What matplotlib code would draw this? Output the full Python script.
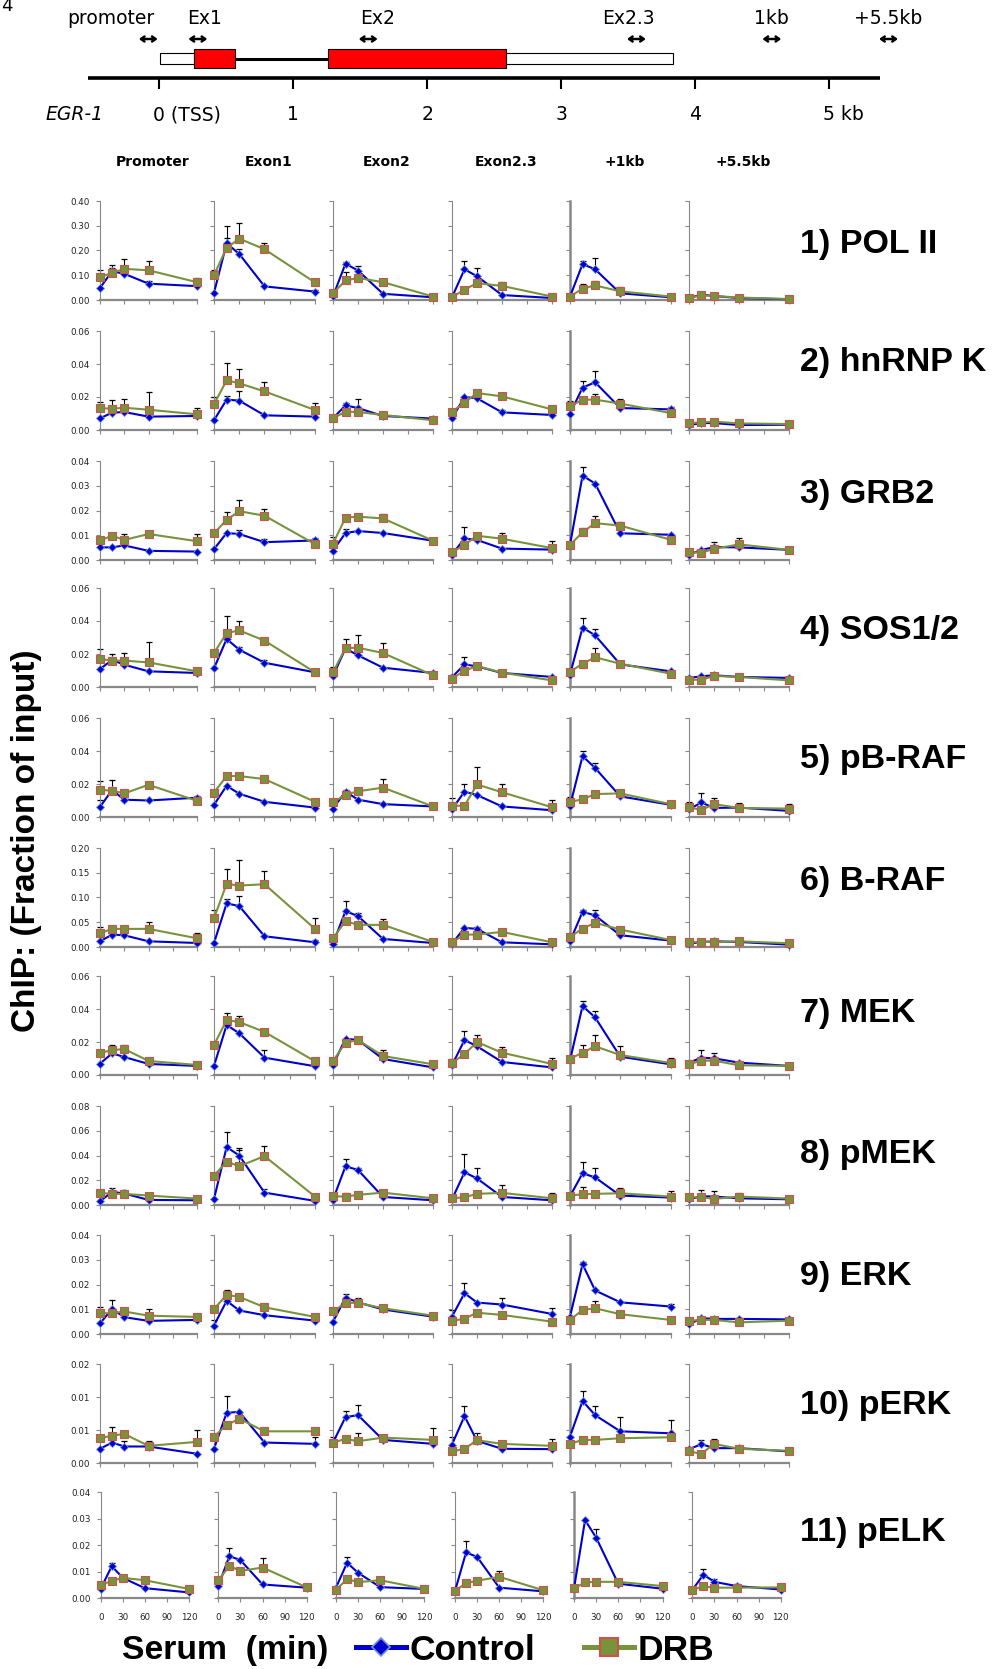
import numpy as np
import matplotlib
matplotlib.use("Agg")
import matplotlib.pyplot as plt
from matplotlib.lines import Line2D
from matplotlib.patches import Rectangle
from matplotlib.ticker import FuncFormatter

# ---- data -------------------------------------------------------------
times = [0, 15, 30, 60, 120]
regions = ["Promoter", "Exon1", "Exon2", "Exon2.3", "+1kb", "+5.5kb"]
targets = ["1) POL II", "2) hnRNP K", "3) GRB2", "4) SOS1/2", "5) pB-RAF",
           "6) B-RAF", "7) MEK", "8) pMEK", "9) ERK", "10) pERK", "11) pELK"]
y_max = [0.40, 0.06, 0.04, 0.06, 0.06, 0.20, 0.06, 0.08, 0.04, 0.015, 0.04]
y_step = [0.10, 0.02, 0.01, 0.02, 0.02, 0.05, 0.02, 0.02, 0.01, 0.005, 0.01]

# each list: one row of 5 time points per region (Promoter ... +5.5kb)
pol2_ctrl = [[0.049, 0.116, 0.106, 0.066, 0.056], [0.029, 0.229, 0.186, 0.055, 0.034],
             [0.015, 0.147, 0.119, 0.025, 0.011], [0.011, 0.124, 0.096, 0.020, 0.008],
             [0.014, 0.145, 0.124, 0.027, 0.011], [0.008, 0.022, 0.016, 0.008, 0.003]]
pol2_ctrl_err = [[0, 0.015, 0.010, 0.010, 0.005], [0, 0.020, 0.020, 0, 0.005],
                 [0, 0.005, 0.020, 0, 0], [0, 0.032, 0.034, 0, 0],
                 [0, 0.013, 0.044, 0, 0], [0, 0, 0, 0, 0]]
pol2_drb = [[0.093, 0.109, 0.126, 0.120, 0.072], [0.101, 0.210, 0.248, 0.205, 0.071],
            [0.027, 0.079, 0.089, 0.072, 0.014], [0.011, 0.042, 0.068, 0.057, 0.014],
            [0.014, 0.046, 0.059, 0.035, 0.014], [0.008, 0.019, 0.016, 0.010, 0.004]]
pol2_drb_err = [[0.030, 0.033, 0.038, 0.038, 0.017], [0.022, 0.090, 0.062, 0.024, 0.015],
                [0, 0.036, 0, 0.010, 0], [0, 0, 0, 0.015, 0],
                [0, 0.020, 0.017, 0.017, 0], [0, 0, 0, 0, 0]]

hnrnpk_ctrl = [[0.0071, 0.0105, 0.0109, 0.0081, 0.0085], [0.0059, 0.0184, 0.0178, 0.0089, 0.0081],
               [0.0071, 0.0149, 0.0133, 0.0085, 0.0069], [0.0071, 0.0200, 0.0192, 0.0107, 0.0091],
               [0.0099, 0.0257, 0.0289, 0.0133, 0.0125], [0.0030, 0.0042, 0.0042, 0.0030, 0.0032]]
hnrnpk_ctrl_err = [[0, 0, 0, 0, 0], [0, 0.0024, 0.0058, 0, 0],
                   [0, 0.0015, 0.0055, 0, 0], [0, 0, 0, 0.0013, 0],
                   [0, 0.0040, 0.0067, 0, 0.0016], [0, 0, 0, 0, 0]]
hnrnpk_drb = [[0.0133, 0.0129, 0.0135, 0.0123, 0.0095], [0.0156, 0.0301, 0.0283, 0.0234, 0.0121],
              [0.0071, 0.0111, 0.0109, 0.0091, 0.0059], [0.0111, 0.0166, 0.0224, 0.0204, 0.0125],
              [0.0143, 0.0184, 0.0184, 0.0160, 0.0103], [0.0042, 0.0046, 0.0051, 0.0040, 0.0036]]
hnrnpk_drb_err = [[0.0037, 0.0055, 0.0053, 0.0110, 0.0040], [0.0044, 0.0105, 0.0087, 0.0057, 0.0043],
                  [0, 0, 0, 0, 0], [0, 0, 0.0012, 0.0016, 0],
                  [0.0031, 0, 0.0036, 0.0030, 0], [0, 0, 0, 0, 0]]

grb2_ctrl = [[0.0051, 0.0051, 0.0059, 0.0037, 0.0034], [0.0044, 0.0109, 0.0105, 0.0072, 0.0079],
             [0.0038, 0.0109, 0.0117, 0.0109, 0.0078], [0.0022, 0.0087, 0.0081, 0.0046, 0.0042],
             [0.0061, 0.0341, 0.0309, 0.0108, 0.0102], [0.0022, 0.0041, 0.0052, 0.0051, 0.0041]]
grb2_ctrl_err = [[0, 0, 0, 0, 0], [0, 0, 0.0015, 0.0014, 0.0010],
                 [0, 0.0015, 0, 0, 0], [0, 0.0047, 0, 0, 0],
                 [0, 0.0034, 0, 0, 0], [0, 0, 0, 0, 0]]
grb2_drb = [[0.0079, 0.0098, 0.0081, 0.0105, 0.0076], [0.0108, 0.0162, 0.0197, 0.0179, 0.0064],
            [0.0066, 0.0171, 0.0175, 0.0168, 0.0078], [0.0031, 0.0061, 0.0098, 0.0086, 0.0048],
            [0.0061, 0.0112, 0.0149, 0.0139, 0.0082], [0.0031, 0.0030, 0.0045, 0.0063, 0.0041]]
grb2_drb_err = [[0.0012, 0, 0.0023, 0, 0.0029], [0, 0.0030, 0.0046, 0.0026, 0],
                [0.0027, 0, 0, 0.0016, 0], [0, 0, 0.0012, 0.0023, 0.0028],
                [0, 0.0019, 0.0028, 0.0015, 0], [0, 0, 0.0026, 0.0024, 0]]

sos_ctrl = [[0.0109, 0.0164, 0.0135, 0.0095, 0.0085], [0.0113, 0.0291, 0.0226, 0.0147, 0.0089],
            [0.0067, 0.0234, 0.0192, 0.0117, 0.0085], [0.0059, 0.0137, 0.0125, 0.0085, 0.0061],
            [0.0075, 0.0360, 0.0313, 0.0137, 0.0095], [0.0055, 0.0065, 0.0071, 0.0061, 0.0055]]
sos_ctrl_err = [[0, 0, 0, 0, 0], [0, 0, 0.0014, 0.0014, 0],
                [0, 0, 0, 0, 0], [0, 0.0045, 0, 0, 0],
                [0, 0.0056, 0.0037, 0, 0], [0, 0, 0, 0, 0]]
sos_drb = [[0.0170, 0.0160, 0.0160, 0.0149, 0.0095], [0.0206, 0.0327, 0.0343, 0.0281, 0.0089],
           [0.0089, 0.0236, 0.0238, 0.0206, 0.0071], [0.0051, 0.0099, 0.0127, 0.0087, 0.0040],
           [0.0093, 0.0141, 0.0180, 0.0141, 0.0081], [0.0044, 0.0044, 0.0067, 0.0061, 0.0040]]
sos_drb_err = [[0.0062, 0.0038, 0.0044, 0.0124, 0], [0, 0.0101, 0.0059, 0, 0],
               [0.0032, 0.0053, 0.0075, 0.0063, 0], [0, 0, 0, 0, 0],
               [0, 0.0014, 0.0056, 0, 0], [0, 0, 0, 0, 0]]

pbraf_ctrl = [[0.0061, 0.0164, 0.0105, 0.0100, 0.0117], [0.0074, 0.0189, 0.0141, 0.0092, 0.0057],
              [0.0051, 0.0154, 0.0105, 0.0078, 0.0064], [0.0047, 0.0154, 0.0133, 0.0064, 0.0041],
              [0.0068, 0.0369, 0.0297, 0.0125, 0.0074], [0.0047, 0.0088, 0.0055, 0.0057, 0.0037]]
pbraf_ctrl_err = [[0.0041, 0, 0, 0, 0.0012], [0, 0, 0, 0, 0],
                  [0, 0.0010, 0, 0, 0], [0.0066, 0.0048, 0, 0, 0],
                  [0.0055, 0.0031, 0.0033, 0, 0], [0, 0.0055, 0, 0, 0]]
pbraf_drb = [[0.0164, 0.0160, 0.0143, 0.0195, 0.0098], [0.0148, 0.0248, 0.0248, 0.0230, 0.0092],
             [0.0088, 0.0135, 0.0156, 0.0178, 0.0064], [0.0068, 0.0068, 0.0197, 0.0150, 0.0059],
             [0.0092, 0.0107, 0.0139, 0.0143, 0.0078], [0.0059, 0.0043, 0.0078, 0.0055, 0.0051]]
pbraf_drb_err = [[0.0057, 0.0065, 0, 0, 0], [0, 0, 0, 0, 0],
                 [0, 0, 0, 0.0054, 0], [0, 0, 0.0106, 0.0050, 0.0041],
                 [0, 0, 0, 0, 0], [0.0033, 0, 0.0035, 0.0029, 0.0027]]

braf_ctrl = [[0.0115, 0.0250, 0.0237, 0.0115, 0.0081], [0.0081, 0.0881, 0.0827, 0.0217, 0.0095],
             [0.0068, 0.0725, 0.0624, 0.0163, 0.0081], [0.0068, 0.0386, 0.0366, 0.0095, 0.0054],
             [0.0115, 0.0712, 0.0637, 0.0237, 0.0129], [0.0068, 0.0102, 0.0115, 0.0102, 0.0047]]
braf_ctrl_err = [[0, 0, 0, 0, 0], [0, 0.0089, 0.0203, 0, 0.0040],
                 [0, 0.0204, 0.0054, 0, 0], [0, 0, 0.0041, 0, 0],
                 [0, 0.0041, 0.0116, 0, 0], [0, 0, 0, 0, 0]]
braf_drb = [[0.0278, 0.0366, 0.0366, 0.0366, 0.0176], [0.0583, 0.1275, 0.1241, 0.1268, 0.0366],
            [0.0176, 0.0522, 0.0447, 0.0447, 0.0102], [0.0095, 0.0251, 0.0251, 0.0305, 0.0095],
            [0.0203, 0.0373, 0.0488, 0.0353, 0.0142], [0.0095, 0.0108, 0.0095, 0.0115, 0.0075]]
braf_drb_err = [[0.0129, 0.0068, 0.0041, 0.0136, 0.0109], [0.0156, 0.0291, 0.0508, 0.0264, 0.0210],
                [0, 0, 0, 0.0109, 0], [0, 0, 0, 0, 0],
                [0.0061, 0, 0, 0, 0], [0, 0, 0, 0, 0]]

mek_ctrl = [[0.0069, 0.0131, 0.0109, 0.0067, 0.0055], [0.0055, 0.0303, 0.0253, 0.0105, 0.0053],
            [0.0061, 0.0220, 0.0212, 0.0097, 0.0046], [0.0059, 0.0212, 0.0174, 0.0079, 0.0046],
            [0.0089, 0.0418, 0.0349, 0.0111, 0.0065], [0.0075, 0.0105, 0.0101, 0.0075, 0.0055]]
mek_ctrl_err = [[0, 0, 0, 0, 0], [0, 0, 0, 0.0049, 0],
                [0, 0, 0, 0, 0], [0, 0.0057, 0, 0, 0],
                [0, 0.0033, 0.0041, 0, 0], [0, 0.0045, 0.0030, 0, 0]]
mek_drb = [[0.0135, 0.0150, 0.0158, 0.0085, 0.0061], [0.0182, 0.0333, 0.0321, 0.0261, 0.0083],
           [0.0085, 0.0196, 0.0212, 0.0115, 0.0065], [0.0073, 0.0127, 0.0200, 0.0135, 0.0067],
           [0.0099, 0.0135, 0.0174, 0.0121, 0.0073], [0.0065, 0.0087, 0.0087, 0.0059, 0.0055]]
mek_drb_err = [[0, 0.0034, 0.0026, 0, 0], [0, 0.0045, 0.0037, 0, 0],
               [0, 0, 0, 0.0039, 0], [0.0026, 0, 0.0044, 0.0033, 0.0034],
               [0, 0.0045, 0.0066, 0.0053, 0.0032], [0, 0, 0, 0, 0]]

pmek_ctrl = [[0.0030, 0.0106, 0.0093, 0.0041, 0.0038], [0.0049, 0.0468, 0.0400, 0.0100, 0.0033],
             [0.0044, 0.0313, 0.0283, 0.0065, 0.0038], [0.0046, 0.0264, 0.0215, 0.0065, 0.0038],
             [0.0071, 0.0256, 0.0223, 0.0076, 0.0060], [0.0046, 0.0071, 0.0068, 0.0054, 0.0046]]
pmek_ctrl_err = [[0, 0.0030, 0, 0, 0], [0, 0.0123, 0.0063, 0.0028, 0],
                 [0, 0.0060, 0.0019, 0, 0], [0, 0.0147, 0.0087, 0, 0],
                 [0, 0.0090, 0.0079, 0, 0], [0, 0, 0.0044, 0, 0]]
pmek_drb = [[0.0098, 0.0090, 0.0090, 0.0076, 0.0052], [0.0237, 0.0351, 0.0313, 0.0395, 0.0068],
            [0.0071, 0.0068, 0.0082, 0.0100, 0.0054], [0.0054, 0.0063, 0.0090, 0.0098, 0.0054],
            [0.0076, 0.0087, 0.0090, 0.0095, 0.0068], [0.0063, 0.0063, 0.0049, 0.0068, 0.0052]]
pmek_drb_err = [[0, 0, 0.0030, 0.0024, 0], [0, 0, 0.0133, 0.0078, 0],
                [0, 0.0032, 0, 0, 0], [0, 0, 0, 0.0062, 0.0041],
                [0, 0.0060, 0, 0.0041, 0.0044], [0, 0.0057, 0, 0.0032, 0]]

erk_ctrl = [[0.0043, 0.0101, 0.0068, 0.0053, 0.0057], [0.0034, 0.0134, 0.0095, 0.0076, 0.0054],
            [0.0049, 0.0147, 0.0128, 0.0099, 0.0070], [0.0070, 0.0165, 0.0127, 0.0119, 0.0081],
            [0.0070, 0.0282, 0.0176, 0.0128, 0.0111], [0.0039, 0.0064, 0.0061, 0.0061, 0.0059]]
erk_ctrl_err = [[0, 0.0037, 0, 0, 0], [0.0023, 0, 0, 0, 0],
                [0, 0.0015, 0.0017, 0, 0], [0.0026, 0.0043, 0, 0.0026, 0.0023],
                [0, 0.0007, 0, 0, 0.0009], [0, 0, 0, 0, 0]]
erk_drb = [[0.0084, 0.0084, 0.0091, 0.0074, 0.0069], [0.0101, 0.0158, 0.0150, 0.0108, 0.0069],
           [0.0091, 0.0126, 0.0126, 0.0104, 0.0074], [0.0053, 0.0062, 0.0086, 0.0077, 0.0050],
           [0.0057, 0.0097, 0.0104, 0.0080, 0.0057], [0.0053, 0.0057, 0.0057, 0.0047, 0.0054]]
erk_drb_err = [[0.0027, 0, 0, 0.0027, 0], [0, 0.0020, 0, 0, 0],
               [0, 0, 0, 0, 0], [0, 0, 0, 0, 0],
               [0, 0, 0.0030, 0.0010, 0], [0, 0, 0, 0, 0]]

perk_ctrl = [[0.00215, 0.0031, 0.0025, 0.0025, 0.0014], [0.00215, 0.0076, 0.00775, 0.0031, 0.0029],
             [0.0031, 0.00695, 0.00725, 0.0035, 0.0029], [0.0028, 0.0071, 0.00335, 0.00215, 0.0021],
             [0.0040, 0.0094, 0.00725, 0.0048, 0.0045], [0.0021, 0.00285, 0.00225, 0.00225, 0.00175]]
perk_ctrl_err = [[0, 0, 0.0008, 0, 0], [0, 0.0025, 0, 0, 0.0010],
                 [0.0009, 0.0010, 0.0016, 0, 0], [0.0012, 0.0015, 0, 0, 0],
                 [0, 0.0015, 0.0014, 0.0021, 0.0020], [0, 0.0007, 0, 0, 0]]
perk_drb = [[0.00375, 0.00415, 0.0044, 0.0026, 0.0032], [0.0040, 0.00575, 0.0067, 0.0048, 0.0048],
            [0.0031, 0.00365, 0.0033, 0.00385, 0.0035], [0.00175, 0.00215, 0.00345, 0.0029, 0.0026],
            [0.0029, 0.0035, 0.0035, 0.00375, 0.0039], [0.00175, 0.0014, 0.0029, 0.00215, 0.00185]]
perk_drb_err = [[0, 0.0013, 0, 0.0008, 0.0018], [0, 0, 0, 0, 0],
                [0, 0, 0.0012, 0, 0.0018], [0, 0, 0.0011, 0, 0.0010],
                [0, 0, 0, 0, 0], [0, 0, 0.0008, 0, 0]]

pelk_ctrl = [[0.0035, 0.0120, 0.0076, 0.0037, 0.0021], [0.0045, 0.0158, 0.0143, 0.0051, 0.0039],
             [0.0039, 0.0133, 0.0095, 0.0041, 0.0034], [0.0026, 0.0172, 0.0155, 0.0039, 0.0025],
             [0.0036, 0.0294, 0.0228, 0.0054, 0.0035], [0.0030, 0.0088, 0.0061, 0.0045, 0.0032]]
pelk_ctrl_err = [[0, 0.0012, 0, 0, 0], [0, 0.0030, 0, 0, 0],
                 [0, 0.0020, 0, 0, 0], [0, 0.0042, 0, 0, 0],
                 [0, 0, 0.0032, 0, 0], [0, 0.0023, 0.0011, 0, 0]]
pelk_drb = [[0.0050, 0.0064, 0.0076, 0.0067, 0.0034], [0.0067, 0.0121, 0.0102, 0.0115, 0.0040],
            [0.0031, 0.0071, 0.0060, 0.0067, 0.0034], [0.0027, 0.0056, 0.0065, 0.0080, 0.0029],
            [0.0036, 0.0059, 0.0061, 0.0061, 0.0045], [0.0031, 0.0044, 0.0039, 0.0039, 0.0040]]
pelk_drb_err = [[0, 0, 0, 0, 0], [0, 0, 0, 0.0035, 0],
                [0, 0, 0, 0, 0], [0, 0, 0, 0.0021, 0],
                [0, 0, 0, 0, 0], [0, 0, 0, 0.0015, 0]]

ctrl_sets = [pol2_ctrl, hnrnpk_ctrl, grb2_ctrl, sos_ctrl, pbraf_ctrl, braf_ctrl,
             mek_ctrl, pmek_ctrl, erk_ctrl, perk_ctrl, pelk_ctrl]
ctrl_errs = [pol2_ctrl_err, hnrnpk_ctrl_err, grb2_ctrl_err, sos_ctrl_err, pbraf_ctrl_err,
             braf_ctrl_err, mek_ctrl_err, pmek_ctrl_err, erk_ctrl_err, perk_ctrl_err, pelk_ctrl_err]
drb_sets = [pol2_drb, hnrnpk_drb, grb2_drb, sos_drb, pbraf_drb, braf_drb,
            mek_drb, pmek_drb, erk_drb, perk_drb, pelk_drb]
drb_errs = [pol2_drb_err, hnrnpk_drb_err, grb2_drb_err, sos_drb_err, pbraf_drb_err,
            braf_drb_err, mek_drb_err, pmek_drb_err, erk_drb_err, perk_drb_err, pelk_drb_err]

# EGR-1 gene map, positions in kb from the TSS
kb_ticks = [0, 1, 2, 3, 4, 5]
kb_tick_labels = ["0 (TSS)", "1", "2", "3", "4", "5 kb"]
utr_blocks = [(0.01, 0.26), (2.59, 3.83)]
exon_blocks = [(0.26, 0.57), (1.26, 2.59)]
intron_span = (0.57, 1.26)
amplicons = ["promoter", "Ex1", "Ex2", "Ex2.3", "1kb", "+5.5kb"]
amplicon_kb = [-0.08, 0.29, 1.56, 3.56, 4.57, 5.44]
amplicon_label_kb = [-0.36, 0.34, 1.63, 3.50, 4.57, 5.44]

# ---- styling / layout (pixels on a 995 x 1669 canvas) -------------------
W, H = 995, 1669
CTRL = "#0000CC"
CTRL_EDGE = "#6F93E0"
DRB = "#77933C"
DRB_EDGE = "#D0504D"
AXIS_GRAY = "#888888"
BOLD = ["Liberation Sans", "DejaVu Sans"]

col_left = [100, 214, 333, 452, 570, 689]
col_width = [97, 101, 100, 100, 100.5, 100]
last_left = [100.7, 218.3, 336, 455, 574, 692.3]
last_width = 88.5
row_top = [201, 331, 461, 588, 718, 848, 976, 1106, 1235, 1364, 1492]
row_h, last_h = 99, 106
label_y = [245, 362, 494, 630, 759, 881, 1013, 1155, 1276, 1405, 1532]


def px_box(left, top, width, height):
    return [left / W, 1 - (top + height) / H, width / W, height / H]


def two_dec(v, pos):
    return f"{np.floor(v * 100 + 0.5 + 1e-9) / 100:.2f}"


def draw_err(ax, y, e, z):
    y = np.asarray(y, float)
    e = np.asarray(e, float)
    m = e > 0
    if not m.any():
        return
    t = np.asarray(times)[m]
    ax.errorbar(t, y[m], yerr=[np.zeros(m.sum()), e[m]], fmt="none", ecolor="black",
                elinewidth=0.8, capsize=2.3, capthick=0.9, zorder=z, clip_on=False)


fig = plt.figure(figsize=(W / 100, H / 100), dpi=100)

n_rows = len(targets)
for r in range(n_rows):
    last = r == n_rows - 1
    for c in range(len(regions)):
        if last:
            box = px_box(last_left[c], row_top[r], last_width, last_h)
        else:
            box = px_box(col_left[c], row_top[r], col_width[c], row_h)
        ax = fig.add_axes(box)
        ax.patch.set_alpha(0)

        draw_err(ax, ctrl_sets[r][c], ctrl_errs[r][c], 2)
        ax.plot(times, ctrl_sets[r][c], color=CTRL, lw=1.5, marker="D", ms=3.6,
                mfc=CTRL, mec=CTRL_EDGE, mew=0.6, zorder=3, clip_on=False)
        draw_err(ax, drb_sets[r][c], drb_errs[r][c], 2.5)
        ax.plot(times, drb_sets[r][c], color=DRB, lw=1.5, marker="s", ms=5.6,
                mfc=DRB, mec=DRB_EDGE, mew=0.8, zorder=4, clip_on=False)

        ax.set_xlim(0, 120)
        ax.set_ylim(0, y_max[r])
        ax.set_xticks([0, 30, 60, 90, 120])
        ax.set_yticks(np.arange(0, y_max[r] + y_step[r] / 2, y_step[r]))
        ax.yaxis.set_major_formatter(FuncFormatter(two_dec))
        for s in ("top", "right"):
            ax.spines[s].set_visible(False)
        ax.spines["left"].set_color(AXIS_GRAY)
        ax.spines["left"].set_linewidth(1.8 if c == 4 else 0.8)
        ax.spines["bottom"].set_color(AXIS_GRAY)
        ax.spines["bottom"].set_linewidth(1.6)
        ax.tick_params(axis="both", direction="out", color=AXIS_GRAY, length=2.6,
                       width=0.8, labelsize=6.3, labelcolor="#222222")
        ax.tick_params(axis="y", pad=4.5, labelleft=(c == 0))
        ax.tick_params(axis="x", pad=8, labelbottom=last)
        for t in ax.get_xticklabels() + ax.get_yticklabels():
            t.set_family("DejaVu Sans")

    fig.text(800 / W, 1 - label_y[r] / H, targets[r], ha="left", va="center",
             fontsize=24.5, fontweight="bold", family=BOLD)

# column headers
for c, name in enumerate(regions):
    cx = col_left[c] + col_width[c] / 2 + 4
    fig.text(cx / W, 1 - 162 / H, name, ha="center", va="center",
             fontsize=10, fontweight="bold", family="DejaVu Sans")

# gene map across the top
gx0, gkb = 159.0, 134.1
gax = fig.add_axes(px_box(0, 0, W, 190))
gax.set_xlim(-gx0 / gkb, (W - gx0) / gkb)
gax.set_ylim(190, 0)
gax.axis("off")

gax.plot([-0.53, 5.38], [77.7, 77.7], color="black", lw=2.6, solid_capstyle="butt")
gax.vlines(kb_ticks, 77.7, 89, color="black", lw=1.5)
for k, lab in zip(kb_ticks, kb_tick_labels):
    if lab in ("0 (TSS)", "5 kb"):
        gax.text(k - 0.045, 115, lab, ha="left", va="center", fontsize=13.5,
                 family="DejaVu Sans")
    else:
        gax.text(k, 115, lab, ha="center", va="center", fontsize=13.5,
                 family="DejaVu Sans")
gax.text(-0.63, 115, "EGR-1", ha="center", va="center", fontsize=13.5,
         style="italic", family="DejaVu Sans")

gax.plot(intron_span, [59, 59], color="black", lw=2.2, solid_capstyle="butt")
for a, b in utr_blocks:
    gax.add_patch(Rectangle((a, 53.5), b - a, 10.5, fc="white", ec="black", lw=0.8))
for a, b in exon_blocks:
    gax.add_patch(Rectangle((a, 49.5), b - a, 19, fc="#FF0000", ec="black", lw=0.8))

for k, lk, name in zip(amplicon_kb, amplicon_label_kb, amplicons):
    gax.annotate("", xy=(k + 0.07, 39), xytext=(k - 0.07, 39),
                 arrowprops=dict(arrowstyle="<->,head_length=0.25,head_width=0.18",
                                 lw=1.8, color="black", shrinkA=0, shrinkB=0))
    gax.text(lk, 19, name, ha="center", va="center", fontsize=13.5, family="DejaVu Sans")

fig.text(1 / W, 1 - 6 / H, "4", ha="left", va="center", fontsize=13, family="DejaVu Sans")

# axis titles and legend
fig.text(26.6 / W, 1 - 840.7 / H, "ChIP: (Fraction of input)", rotation=90,
         ha="center", va="center", fontsize=24, fontweight="bold", family=BOLD)
fig.text(122 / W, 1 - 1650 / H, "Serum  (min)", ha="left", va="center",
         fontsize=24.3, fontweight="bold", family=BOLD)

handles = [
    Line2D([], [], color=CTRL, lw=3.6, marker="D", ms=9.5, mfc=CTRL, mec=CTRL_EDGE, mew=1.2),
    Line2D([], [], color=DRB, lw=3.6, marker="s", ms=12.5, mfc=DRB, mec=DRB_EDGE, mew=1.5),
]
fig.legend(handles=handles, labels=["Control", "DRB"], loc="center left",
           bbox_to_anchor=(356 / W, 1 - 1650 / H), ncol=2, frameon=False,
           borderpad=0, borderaxespad=0, handlelength=1.41, handletextpad=0.1,
           columnspacing=1.38, numpoints=1,
           prop=dict(family=BOLD, weight="bold", size=25.5))

fig.savefig("out.png", dpi=100)
